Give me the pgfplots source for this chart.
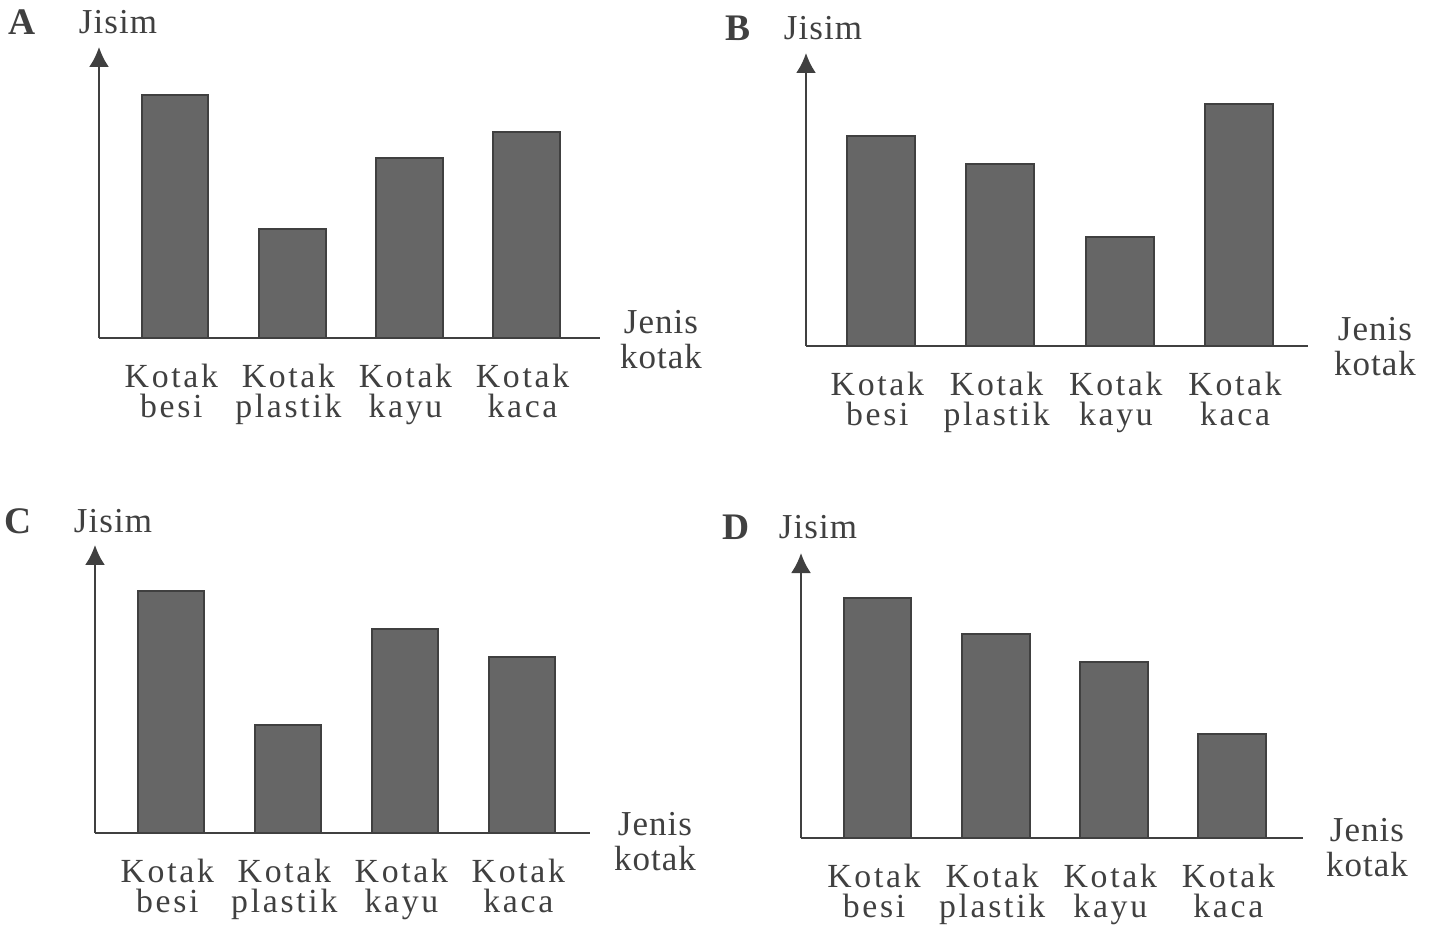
\documentclass[border=0pt]{standalone}
\usepackage{fontspec}
\setmainfont{Liberation Serif}
\newfontfamily\tickfont[LetterSpace=8]{Liberation Serif}
\newfontfamily\labfont[LetterSpace=3]{Liberation Serif}
\usepackage{pgfplots}
\pgfplotsset{compat=1.18}
\usetikzlibrary{arrows.meta}
\definecolor{ink}{gray}{0.25}
\definecolor{barfill}{gray}{0.4}
\pgfplotsset{
  panel/.style={
    scale only axis,
    axis x line=bottom, axis y line=left,
    x axis line style={-, line width=0.9pt, color=ink},
    y axis line style={-{Latex[length=8pt,width=8pt]}, line width=0.9pt, color=ink},
    ymin=0, ytick=\empty,
    xtick={0,1,2,3},
    xticklabels={{Kotak\\besi},{Kotak\\plastik},{Kotak\\kayu},{Kotak\\kaca}},
    xtick style={draw=none},
    xticklabel style={align=center, font=\fontsize{13.5}{12.3}\selectfont\tickfont, text=ink, yshift=-2.5pt, xshift=-1.5pt},
    ybar, bar width=0.57,
  },
  barsty/.style={fill=barfill, draw=ink, line width=0.8pt},
}
\pgfplotstableread{
x A B C D
0 243 210 242 240
1 109 182 108 204
2 180 109 204 176
3 206 242 176 104
}\datatab
\begin{document}
\begin{tikzpicture}
\useasboundingbox (0,0) rectangle (574.8pt,370pt);
% Panel A
\begin{axis}[panel, at={(39.6pt,234.8pt)}, anchor=south west,
  width=200.4pt, height=116.4pt, xmin=-0.65, xmax=3.63, ymax=291]
\addplot[barsty] table[x=x,y=A]{\datatab};
\end{axis}
% Panel B
\begin{axis}[panel, at={(322.4pt,231.6pt)}, anchor=south west,
  width=200.8pt, height=117.2pt, xmin=-0.63, xmax=3.58, ymax=293]
\addplot[barsty] table[x=x,y=B]{\datatab};
\end{axis}
% Panel C
\begin{axis}[panel, at={(38pt,36.8pt)}, anchor=south west,
  width=198pt, height=115.2pt, xmin=-0.65, xmax=3.58, ymax=288]
\addplot[barsty] table[x=x,y=C]{\datatab};
\end{axis}
% Panel D
\begin{axis}[panel, at={(320.4pt,34.8pt)}, anchor=south west,
  width=200.8pt, height=114pt, xmin=-0.65, xmax=3.6, ymax=285]
\addplot[barsty] table[x=x,y=D]{\datatab};
\end{axis}
\begin{scope}[x=0.4pt,y=0.4pt]
\tikzset{lett/.style={font=\fontsize{15}{15}\selectfont\bfseries, text=ink},
  jis/.style={font=\fontsize{14}{14}\selectfont\labfont, text=ink},
  jen/.style={font=\fontsize{14}{14}\selectfont\labfont, text=ink, align=center}}
\node[lett] at (22,903) {A};
\node[jis] at (118,903) {Jisim};
\node[jen] at (661,585) {Jenis\\kotak};
\node[lett] at (738,897) {B};
\node[jis] at (823,897) {Jisim};
\node[jen] at (1375,578) {Jenis\\kotak};
\node[lett] at (18,404) {C};
\node[jis] at (113,404) {Jisim};
\node[jen] at (655,83) {Jenis\\kotak};
\node[lett] at (736,398) {D};
\node[jis] at (818,398) {Jisim};
\node[jen] at (1367,77) {Jenis\\kotak};
\end{scope}
\end{tikzpicture}
\end{document}
